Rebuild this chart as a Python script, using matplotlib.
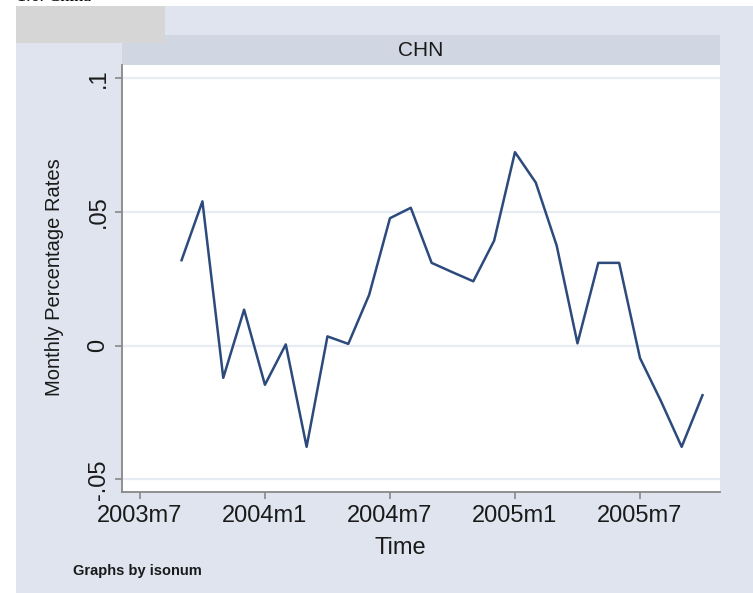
import numpy as np
import matplotlib.pyplot as plt
from matplotlib.patches import Rectangle

# Tasas mensuales de CHN, de 2003m9 a 2005m10 (0 = 2003m7)
meses = np.arange(2, 28)
tasas = [0.032, 0.054, -0.012, 0.0135, -0.0146, 0.0005, -0.0378, 0.0035, 0.0007, 0.019,
         0.0477, 0.0516, 0.031, 0.0275, 0.0241, 0.0393, 0.0724, 0.061, 0.0375, 0.0009,
         0.031, 0.031, -0.0046, -0.0206, -0.0378, -0.0185]

pos_x = [0, 6, 12, 18, 24]
etiquetas_x = ['2003m7', '2004m1', '2004m7', '2005m1', '2005m7']
pos_y = [-0.05, 0, 0.05, 0.1]
etiquetas_y = ['-.05', '0', '.05', '.1']

W, H = 753, 593
plt.rcParams['font.family'] = ['Liberation Sans', 'DejaVu Sans']
texto = '#1a1a1a'

fig = plt.figure(figsize=(W / 100, H / 100), dpi=100, facecolor='white')


# pasar de pixeles (origen arriba a la izquierda) a coordenadas de la figura
def caja(x0, y0, x1, y1):
    return [x0 / W, 1 - y1 / H, (x1 - x0) / W, (y1 - y0) / H]


def rect(x0, y0, x1, y1, color, z):
    l, b, w, h = caja(x0, y0, x1, y1)
    fig.patches.append(Rectangle((l, b), w, h, transform=fig.transFigure,
                                 facecolor=color, edgecolor='none', zorder=z))


# fondo del grafico, franja del titulo y recuadro gris
rect(16, 6, W, H, '#dfe4ee', 0)
rect(122, 35, 720, 65, '#d0d6e2', 1)
rect(16, 6, 165, 43, '#d6d6d6', 2)

fig.text(17 / W, 1 - 5 / H, '1.6. China', family='Liberation Serif', fontsize=13,
         va='bottom', ha='left')
fig.text(421 / W, 1 - 51 / H, 'CHN', fontsize=15, ha='center', va='center', color=texto)

ax = fig.add_axes(caja(122, 65, 720, 492))
ax.set_zorder(5)
ax.set_facecolor('white')
ax.plot(meses, tasas, color='#2c4a7c', lw=1.8, zorder=3)

ax.set_xlim(-0.86, 27.84)
ax.set_ylim(-0.0547, 0.105)
ax.set_xticks(pos_x)
ax.set_xticklabels(etiquetas_x, fontsize=17)
ax.set_yticks(pos_y)
ax.set_yticklabels(etiquetas_y, fontsize=17, rotation=90, va='center')

ax.grid(axis='y', color='#e6ebf4', lw=1.6)
ax.grid(axis='x', visible=False)
for lado in ['top', 'right']:
    ax.spines[lado].set_visible(False)
for lado in ['left', 'bottom']:
    ax.spines[lado].set_color('#888888')
    ax.spines[lado].set_linewidth(1.3)
ax.tick_params(axis='both', colors='#888888', labelcolor=texto, length=5, width=1.2, pad=4)

fig.text(400 / W, 1 - 548 / H, 'Time', fontsize=17, ha='center', va='center', color=texto)
fig.text(54 / W, 1 - 277 / H, 'Monthly Percentage Rates', fontsize=14.5, rotation=90,
         ha='center', va='center', color=texto)
fig.text(73 / W, 1 - 571 / H, 'Graphs by isonum', fontsize=10.5, weight='bold',
         ha='left', va='center', color=texto)

fig.savefig('out.png', dpi=100)
